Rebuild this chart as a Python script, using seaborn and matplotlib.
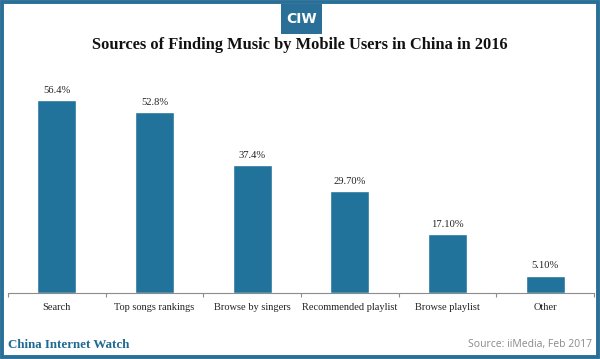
import matplotlib.pyplot as plt
import numpy as np
import pandas as pd
import seaborn as sns
from matplotlib.patches import Rectangle

categories = ["Search", "Top songs rankings", "Browse by singers",
              "Recommended playlist", "Browse playlist", "Other"]
shares = [56.4, 52.8, 37.4, 29.7, 17.1, 5.1]
value_labels = ["56.4%", "52.8%", "37.4%", "29.70%", "17.10%", "5.10%"]

BLUE = "#22739b"
FRAME = "#2a6f97"

sns.set_theme(style="white")
plt.rcParams["font.family"] = ["Liberation Serif", "DejaVu Serif"]

df = pd.DataFrame({"source": categories, "share": shares})

fig = plt.figure(figsize=(6, 3.59), dpi=100)
ax = fig.add_axes([8 / 600, 1 - 293 / 359, 586 / 600, 211 / 359])

sns.barplot(data=df, x="source", y="share", color=BLUE, width=0.4,
            saturation=1, ax=ax)
ax.set_ylim(0, 61.6)
ax.set_xlim(-0.5, len(categories) - 0.5)

for i, (v, lab) in enumerate(zip(shares, value_labels)):
    ax.text(i, v + 1.5, lab, ha="center", va="bottom", fontsize=7.6, color="#222222")

# axis styling
for side in ["top", "right", "left"]:
    ax.spines[side].set_visible(False)
ax.spines["bottom"].set_color("#8c8c8c")
ax.spines["bottom"].set_linewidth(0.8)
ax.set_yticks([])
ax.set_xlabel("")
ax.set_ylabel("")
ax.tick_params(axis="x", which="major", length=0, pad=7, labelsize=7.5, colors="#222222")
ax.set_xticks(np.arange(len(categories) + 1) - 0.5, minor=True)
ax.tick_params(axis="x", which="minor", length=3, width=0.8, color="#8c8c8c", bottom=True)

# title and logo
fig.text(0.5, 1 - 45 / 359, "Sources of Finding Music by Mobile Users in China in 2016",
         ha="center", va="center", fontsize=11.8, fontweight="bold", color="#111111")
fig.patches.append(Rectangle((281 / 600, 1 - 34 / 359), 41 / 600, 30 / 359,
                             transform=fig.transFigure, facecolor=FRAME, edgecolor="none"))
fig.text(301.5 / 600, 1 - 19 / 359, "CIW", ha="center", va="center", fontsize=10,
         fontweight="bold", color="white", family=["Liberation Sans Narrow", "DejaVu Sans"])

# footer
fig.text(8 / 600, 1 - 345 / 359, "China Internet Watch", ha="left", va="center",
         fontsize=9.4, fontweight="bold", color="#1f6a92")
fig.text(592 / 600, 1 - 345 / 359, "Source: iiMedia, Feb 2017", ha="right", va="center",
         fontsize=7.5, color="#8a8a8a", family=["Open Sans", "DejaVu Sans"])

# frame
fig.patches.append(Rectangle((0.003, 0.005), 0.994, 0.99, transform=fig.transFigure,
                             facecolor="none", edgecolor=FRAME, linewidth=2.8))

fig.savefig("out.png", dpi=100)
